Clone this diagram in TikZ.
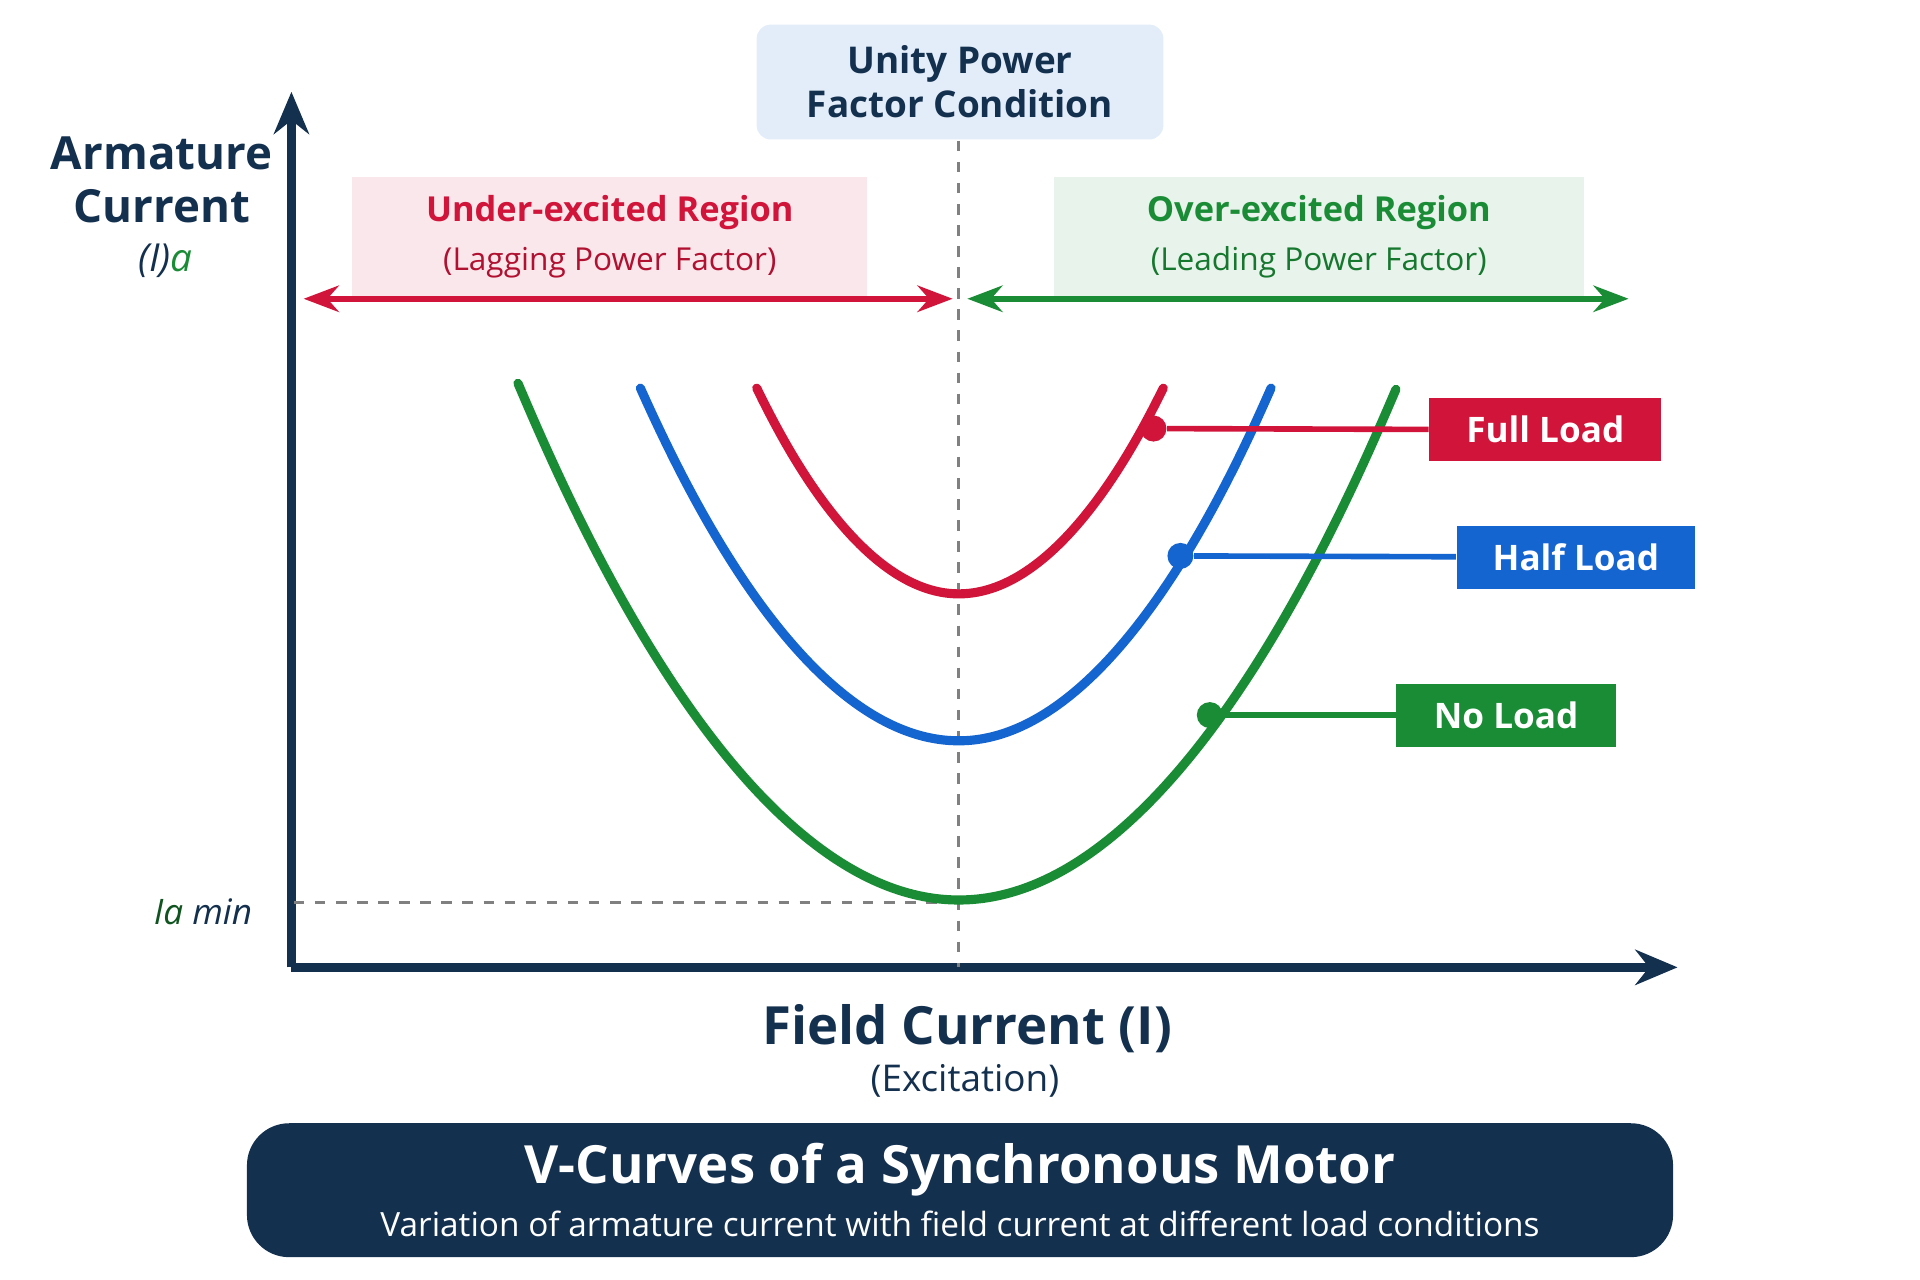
\documentclass[tikz,border=0pt]{standalone}
\usepackage{fontspec}
\setmainfont{Open Sans}
\usetikzlibrary{arrows.meta,positioning}
\definecolor{navy}{HTML}{14304F}
\definecolor{cred}{HTML}{D0143A}
\definecolor{cblue}{HTML}{1565D0}
\definecolor{cgreen}{HTML}{1A8C36}
\tikzset{
  regionbox/.style={rectangle, minimum width=5.15cm, minimum height=1.19cm, align=center, inner sep=2pt},
  loadbox/.style={rectangle, text=white, font=\bfseries\fontsize{10}{12}\selectfont, minimum height=0.63cm},
  vcurve/.style={line width=2.6pt, line cap=round},
  loaddot/.style={circle, inner sep=0pt, minimum size=0.26cm},
}
\begin{document}
\begin{tikzpicture}[x=0.01225cm, y=-0.01225cm]
\useasboundingbox (0,0) rectangle (1568,1045);
%Boxes on top
\node (unity) [rectangle, rounded corners=4pt, fill=cblue!12, minimum width=4.07cm, minimum height=1.15cm, align=center, text=navy, font=\bfseries\fontsize{10.5}{12.5}\selectfont] at (784,67) {Unity Power\\Factor Condition};
\node (under) [regionbox, fill=cred!10] at (498,193) {{\color{cred}\bfseries\fontsize{9.8}{12}\selectfont Under-excited Region}\\[2pt]{\color{cred!85!black}\fontsize{9}{11}\selectfont (Lagging Power Factor)}};
\node (over) [regionbox, fill=cgreen!10, minimum width=5.3cm] at (1077,193) {{\color{cgreen}\bfseries\fontsize{9.8}{12}\selectfont Over-excited Region}\\[2pt]{\color{cgreen!85!black}\fontsize{9}{11}\selectfont (Leading Power Factor)}};

%Axes
\coordinate (origin) at (238,790);
\coordinate (ytop) at (238,75);
\coordinate (xend) at (1370,790);
\draw [-{Stealth[length=12pt,width=10pt]}, line width=2.5pt, navy] (origin) -- (ytop);
\draw [-{Stealth[length=12pt,width=10pt]}, line width=2.5pt, navy] (origin) -- (xend);
\node (ylabel) [align=center, text=navy, font=\bfseries\fontsize{13}{15}\selectfont] at (132,147) {Armature\\Current};
\node (ysym) [font=\itshape\fontsize{11}{13}\selectfont] at (135,213) {{\color{navy}(I)}{\color{cgreen}a}};
\node (iamin) [font=\itshape\fontsize{10}{12}\selectfont, anchor=east] at (216,745) {{\color{cgreen!60!black}Ia} {\color{navy}min}};
\node (xlabel) [text=navy, font=\bfseries\fontsize{15}{18}\selectfont] at (790,840) {Field Current (I)};
\node (xsub) [text=navy, font=\fontsize{10.5}{13}\selectfont] at (788,883) {(Excitation)};

%Dashed guides
\coordinate (vtop) at (783,115);
\coordinate (vbot) at (783,790);
\coordinate (hleft) at (240,737);
\coordinate (hright) at (783,737);
\draw [dashed, gray, thick] (vtop) -- (vbot);
\draw [dashed, gray, thick] (hleft) -- (hright);

%Region arrows
\coordinate (ra) at (248,244);
\coordinate (rb) at (778,244);
\coordinate (ga) at (790,244);
\coordinate (gb) at (1330,244);
\draw [{Stealth[length=10pt]}-{Stealth[length=10pt]}, line width=1.6pt, cred] (ra) -- (rb);
\draw [{Stealth[length=10pt]}-{Stealth[length=10pt]}, line width=1.6pt, cgreen] (ga) -- (gb);

%V-curves
\draw [vcurve, cgreen] (423,313) parabola bend (783,735) (1140,318);
\draw [vcurve, cblue] (523,317) parabola bend (783,605) (1038,317);
\draw [vcurve, cred] (618,317) parabola bend (783,485) (950,317);

%Load labels
\node (fulldot) [loaddot, fill=cred] at (942,350) {};
\node (halfdot) [loaddot, fill=cblue] at (964,454) {};
\node (nodot) [loaddot, fill=cgreen] at (988,584) {};
\node (full) [loadbox, fill=cred, minimum width=2.32cm] at (1262,351) {Full Load};
\node (half) [loadbox, fill=cblue, minimum width=2.39cm] at (1287,455) {Half Load};
\node (noload) [loadbox, fill=cgreen, minimum width=2.2cm] at (1230,584) {No Load};
\draw [line width=1.6pt, cred] (fulldot) -- (full);
\draw [line width=1.6pt, cblue] (halfdot) -- (half);
\draw [line width=1.6pt, cgreen] (nodot) -- (noload);

%Title banner
\node (banner) [rectangle, rounded corners=12pt, fill=navy, minimum width=14.27cm, minimum height=1.34cm, align=center, text=white] at (784,972) {{\bfseries\fontsize{15}{18}\selectfont V-Curves of a Synchronous Motor}\\[3pt]{\fontsize{9.5}{11}\selectfont Variation of armature current with field current at different load conditions}};
\end{tikzpicture}
\end{document}
